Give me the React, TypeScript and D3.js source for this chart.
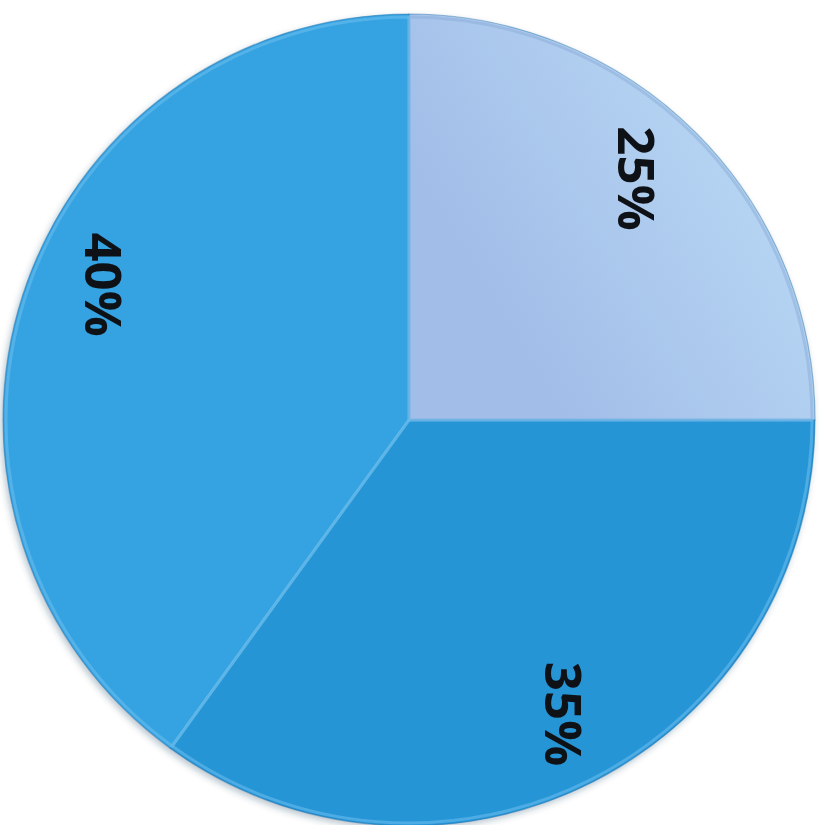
import { useEffect, useRef } from "react"
import * as d3 from "d3"

const labels = ["25%", "35%", "40%"]
const values = [25, 35, 40]
const colors = ["#b0d0f0", "#2c9bda", "#3ba7e5"]
// small angular nudges (degrees) so labels sit where the original puts them
const labelNudge = [-1.5, -1, 6]

const W = 825
const H = 825

export default function App() {
  const svgRef = useRef<SVGSVGElement>(null)

  useEffect(() => {
    const svg = d3.select(svgRef.current!)
    svg.selectAll("*").remove()

    const cx = 409
    const cy = 420
    const radius = 406

    const defs = svg.append("defs")
    const shadow = defs
      .append("filter")
      .attr("id", "shadow")
      .attr("x", "-10%")
      .attr("y", "-10%")
      .attr("width", "120%")
      .attr("height", "120%")
    shadow
      .append("feDropShadow")
      .attr("dx", -2)
      .attr("dy", 3)
      .attr("stdDeviation", 3)
      .attr("flood-color", "#1a3c5c")
      .attr("flood-opacity", 0.3)

    // soft gradient for the light slice (darker near the centre edge)
    const g0 = defs
      .append("linearGradient")
      .attr("id", "lightGrad")
      .attr("gradientUnits", "userSpaceOnUse")
      .attr("x1", cx)
      .attr("y1", cy)
      .attr("x2", cx + radius)
      .attr("y2", cy - radius * 0.6)
    g0.append("stop").attr("offset", 0).attr("stop-color", "#a2bde8")
    g0.append("stop").attr("offset", 1).attr("stop-color", "#c2e4f9")

    const g1 = defs
      .append("linearGradient")
      .attr("id", "midGrad")
      .attr("gradientUnits", "userSpaceOnUse")
      .attr("x1", cx)
      .attr("y1", cy)
      .attr("x2", cx)
      .attr("y2", cy + radius)
    g1.append("stop").attr("offset", 0).attr("stop-color", "#2895d6")
    g1.append("stop").attr("offset", 1).attr("stop-color", "#2c9bdb")

    const g2 = defs
      .append("linearGradient")
      .attr("id", "darkGrad")
      .attr("gradientUnits", "userSpaceOnUse")
      .attr("x1", cx - radius)
      .attr("y1", cy)
      .attr("x2", cx)
      .attr("y2", cy)
    g2.append("stop").attr("offset", 0).attr("stop-color", "#36a2e1")
    g2.append("stop").attr("offset", 1).attr("stop-color", "#3eaae7")

    const fills = ["url(#lightGrad)", "url(#midGrad)", "url(#darkGrad)"]

    const pie = d3
      .pie<number>()
      .sort(null)
      .value((d) => d)
    const arcs = pie(values)

    const arc = d3.arc<d3.PieArcDatum<number>>().innerRadius(0).outerRadius(radius)
    const labelR = radius * 0.82

    const g = svg.append("g").attr("transform", `translate(${cx},${cy})`)

    g.append("g")
      .attr("filter", "url(#shadow)")
      .selectAll("path.slice")
      .data(arcs)
      .enter()
      .append("path")
      .attr("class", "slice")
      .attr("d", arc)
      .attr("fill", (_d, i) => fills[i] || colors[i])
      .attr("stroke", "#1f6fa8")
      .attr("stroke-opacity", 0.45)
      .attr("stroke-width", 1.2)

    // bevel highlights along the slice edges
    const inner = d3
      .arc<d3.PieArcDatum<number>>()
      .innerRadius(0)
      .outerRadius(radius - 3)
    g.selectAll("path.bevel")
      .data(arcs)
      .enter()
      .append("path")
      .attr("class", "bevel")
      .attr("d", inner)
      .attr("fill", "none")
      .attr("stroke", (_d, i) => (i === 0 ? "#8eaedb" : "#6cc0ee"))
      .attr("stroke-opacity", 0.55)
      .attr("stroke-width", 3)

    g.selectAll("text")
      .data(arcs)
      .enter()
      .append("text")
      .attr("transform", (d, i) => {
        const a = (d.startAngle + d.endAngle) / 2 + (labelNudge[i] * Math.PI) / 180
        const x = Math.sin(a) * labelR
        const y = -Math.cos(a) * labelR
        return `translate(${x},${y}) rotate(90)`
      })
      .attr("text-anchor", "middle")
      .attr("dominant-baseline", "central")
      .attr("font-family", "'Open Sans', 'Noto Sans', sans-serif")
      .attr("font-weight", 700)
      .attr("font-size", 51)
      .attr("fill", "#0e1116")
      .text((_d, i) => labels[i])
  }, [])

  return (
    <svg
      ref={svgRef}
      width={W}
      height={H}
      style={{ position: "absolute", left: 0, top: 0, background: "#ffffff" }}
    />
  )
}
